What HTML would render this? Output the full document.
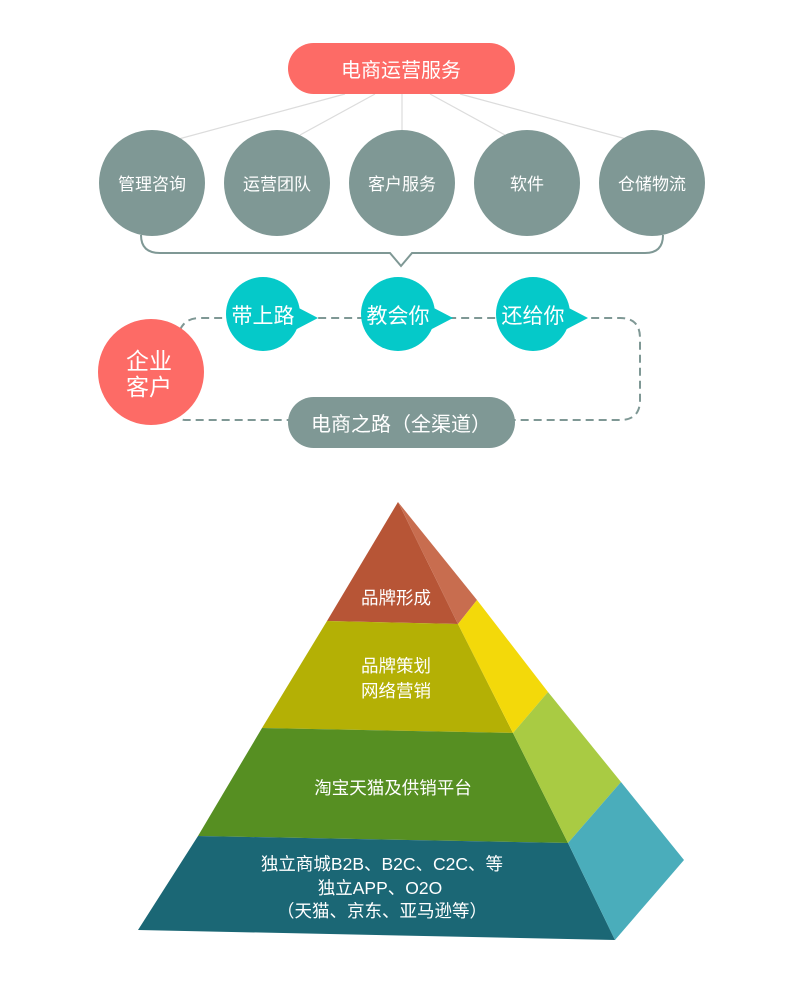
<!DOCTYPE html>
<html><head><meta charset="utf-8"><style>
body{margin:0;background:#fff;}
svg text{font-family:"Liberation Sans","Noto Sans CJK SC",sans-serif;fill:#fff;text-anchor:middle;}
</style></head><body>
<svg width="802" height="995" viewBox="0 0 802 995" xmlns="http://www.w3.org/2000/svg">
<g stroke="#dcdcdc" stroke-width="1.2">
<line x1="345" y1="94" x2="175" y2="140"/>
<line x1="375" y1="94" x2="300" y2="135"/>
<line x1="402" y1="94" x2="402" y2="130"/>
<line x1="430" y1="94" x2="505" y2="135"/>
<line x1="460" y1="94" x2="630" y2="140"/>
</g>
<rect x="288" y="43" width="227" height="51" rx="25.5" fill="#fd6b66"/>
<text x="401" y="77" font-size="20">电商运营服务</text>
<g fill="#7f9895">
<circle cx="152" cy="183" r="53"/><circle cx="277" cy="183" r="53"/><circle cx="402" cy="183" r="53"/><circle cx="527" cy="183" r="53"/><circle cx="652" cy="183" r="53"/>
</g>
<g font-size="17"><text x="152" y="190">管理咨询</text><text x="277" y="190">运营团队</text><text x="402" y="190">客户服务</text><text x="527" y="190">软件</text><text x="652" y="190">仓储物流</text></g>
<path d="M141 235 Q141 253 160 253 L390 253 L401 266 L412 253 L645 253 Q663 253 663 235" fill="none" stroke="#7f9895" stroke-width="2"/>
<path d="M180 330 Q185 318 200 318 L620 318 Q640 318 640 338 L640 400 Q640 420 620 420 L185 420 Q178 420 175 410" fill="none" stroke="#7f9895" stroke-width="2" stroke-dasharray="8,5"/>
<g fill="#05c9c9">
<circle cx="263" cy="314" r="37"/><polygon points="295,306 318,318 295,330"/>
<circle cx="398" cy="314" r="37"/><polygon points="430,306 453,318 430,330"/>
<circle cx="533" cy="314" r="37"/><polygon points="565,306 588,318 565,330"/>
</g>
<g font-size="21"><text x="263" y="323">带上路</text><text x="398" y="323">教会你</text><text x="533" y="323">还给你</text></g>
<circle cx="151" cy="372" r="53" fill="#fd6b66"/>
<g font-size="23"><text x="149" y="369">企业</text><text x="149" y="395">客户</text></g>
<rect x="288" y="397" width="227" height="51" rx="25.5" fill="#7f9895"/>
<text x="401" y="431" font-size="20">电商之路（全渠道）</text>
<polygon points="398,502 327,621 458,624" fill="#b75536"/>
<polygon points="398,502 477,600 458,624" fill="#c86d4f"/>
<polygon points="327,621 458,624 513,733 262,728" fill="#b4b005"/>
<polygon points="458,624 477,600 548,692 513,733" fill="#f3d90a"/>
<polygon points="262,728 513,733 568,843 198,836" fill="#568f22"/>
<polygon points="513,733 548,692 621,782 568,843" fill="#a9cb43"/>
<polygon points="198,836 568,843 615,940 138,930" fill="#1b6775"/>
<polygon points="568,843 621,782 684,860 615,940" fill="#4aadbb"/>
<g font-size="17.5">
<text x="396" y="604">品牌形成</text>
<text x="396" y="672">品牌策划</text><text x="396" y="697">网络营销</text>
<text x="393" y="794">淘宝天猫及供销平台</text>
<text x="382" y="870">独立商城B2B、B2C、C2C、等</text>
<text x="380" y="894">独立APP、O2O</text>
<text x="382" y="917">（天猫、京东、亚马逊等）</text>
</g>
</svg>
</body></html>
